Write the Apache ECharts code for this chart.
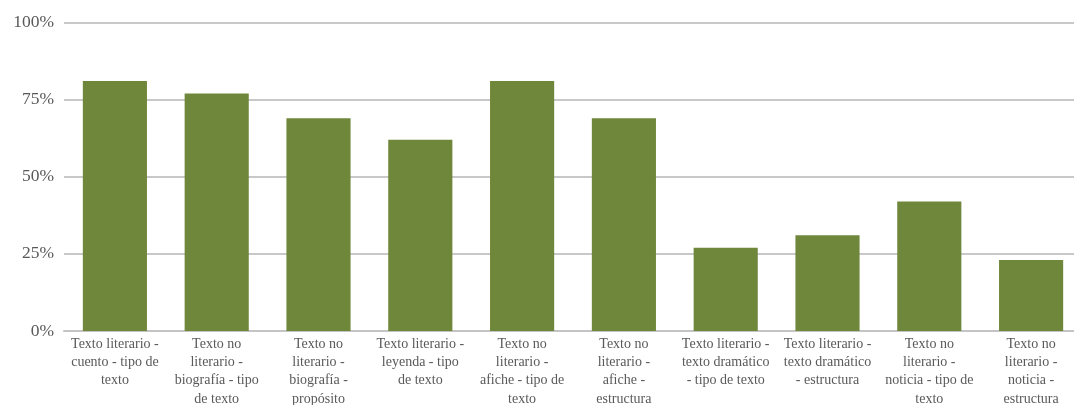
<!DOCTYPE html>
<html>
<head>
<meta charset="utf-8">
<script src="https://cdn.jsdelivr.net/npm/echarts@6/dist/echarts.min.js"></script>
<style>
html,body{margin:0;padding:0;background:#fff;}
#chart{width:1074px;height:405px;}
</style>
</head>
<body>
<div id="chart"></div>
<script>
const categories = [
  "Texto literario -\ncuento - tipo de\ntexto",
  "Texto no\nliterario -\nbiografía - tipo\nde texto",
  "Texto no\nliterario -\nbiografía -\npropósito",
  "Texto literario -\nleyenda - tipo\nde texto",
  "Texto no\nliterario -\nafiche - tipo de\ntexto",
  "Texto no\nliterario -\nafiche -\nestructura",
  "Texto literario -\ntexto dramático\n- tipo de texto",
  "Texto literario -\ntexto dramático\n- estructura",
  "Texto no\nliterario -\nnoticia - tipo de\ntexto",
  "Texto no\nliterario -\nnoticia -\nestructura"
];
const values = [81, 77, 69, 62, 81, 69, 27, 31, 42, 23];
const yTicks = [0, 25, 50, 75, 100];

const chart = echarts.init(document.getElementById('chart'), null, {renderer: 'canvas'});
chart.setOption({
  animation: false,
  backgroundColor: '#ffffff',
  grid: {left: 64, top: 22.5, width: 1018, height: 308.5, containLabel: false, outerBoundsMode: 'none'},
  xAxis: {
    type: 'category',
    data: categories,
    axisTick: {show: false},
    axisLine: {show: true, lineStyle: {color: '#c4c4c4', width: 2}},
    axisLabel: {
      interval: 0,
      margin: 4,
      color: '#595959',
      fontFamily: 'Liberation Serif',
      fontSize: 14,
      lineHeight: 18.3
    }
  },
  yAxis: {
    type: 'value',
    min: yTicks[0],
    max: yTicks[yTicks.length - 1],
    interval: 25,
    axisLine: {show: false},
    axisTick: {show: false},
    splitLine: {lineStyle: {color: '#c8c8c8', width: 2}},
    axisLabel: {
      margin: 10,
      color: '#595959',
      fontFamily: 'Liberation Serif',
      fontSize: 17.5,
      formatter: v => v + '%'
    }
  },
  series: [{
    type: 'bar',
    data: values,
    barCategoryGap: '37%',
    itemStyle: {color: '#6f873b'}
  }]
});
</script>
</body>
</html>
